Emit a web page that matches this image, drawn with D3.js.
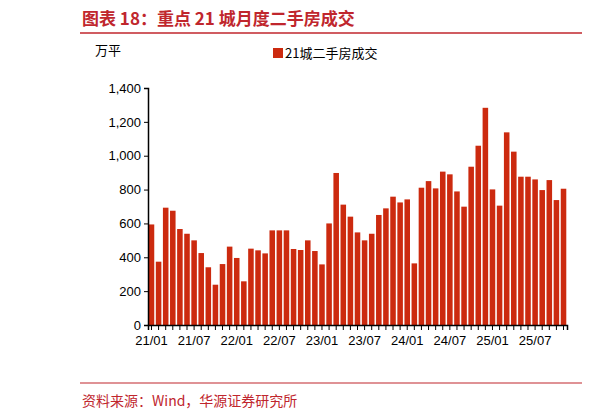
<!DOCTYPE html><html><head><meta charset="utf-8"><script src="https://cdn.jsdelivr.net/npm/d3@7"></script>
<style>body{margin:0;background:#fff}</style></head><body><svg id="c" width="614" height="420"></svg><script>
const values=[594,374,693,675,567,539,500,425,341,238,360,463,396,258,451,441,423,559,559,559,449,443,500,437,358,600,898,711,640,547,500,539,650,689,758,724,742,364,811,850,807,906,890,789,699,935,1059,1283,801,705,1138,1024,876,876,860,797,856,738,805];
const startYear=21;
const months=values.map((v,i)=>{const y=startYear+Math.floor(i/12),m=i%12+1;return y+"/"+String(m).padStart(2,"0");});
const yTicks=[0,200,400,600,800,1000,1200,1400];
const svg=d3.select("#c");
const f="'Noto Sans CJK SC',sans-serif";
svg.append("text").attr("x",82).attr("y",25).attr("font-family",f).attr("font-weight","bold").attr("font-size",17).attr("fill","#c0262d").text("图表 18：重点 21 城月度二手房成交");
svg.append("line").attr("x1",80).attr("x2",582).attr("y1",33).attr("y2",33).attr("stroke","#c0262d").attr("stroke-width",1.5);
svg.append("line").attr("x1",80).attr("x2",582).attr("y1",383).attr("y2",383).attr("stroke","#c0262d").attr("stroke-width",1.2);
svg.append("text").attr("x",82).attr("y",406).attr("font-family",f).attr("font-size",14).attr("fill","#c0262d").text("资料来源：Wind，华源证券研究所");
const x=d3.scaleBand().domain(months).range([148,567]).paddingInner(0.22).paddingOuter(0.1);
const y=d3.scaleLinear().domain([0,1400]).range([325,88]);
svg.selectAll("rect.b").data(values).join("rect").attr("x",(d,i)=>x(months[i])).attr("width",x.bandwidth()).attr("y",d=>y(d)).attr("height",d=>y(0)-y(d)).attr("fill","#cc2a0f");
const ya=svg.append("g").attr("transform","translate(148,0)").call(d3.axisLeft(y).tickValues(yTicks).tickSize(4));
ya.selectAll("text").attr("font-family","Arial,'Liberation Sans'").attr("font-size",13).attr("fill","#000");
const xa=svg.append("g").attr("transform","translate(0,325)").call(d3.axisBottom(x).tickSize(5).tickFormat(d=>{const m=d.slice(3);return (m==="01"||m==="07")?d:"";}));
xa.selectAll("text").attr("font-family","Arial,'Liberation Sans'").attr("font-size",13).attr("fill","#000").attr("dy","0.9em");
[ya,xa].forEach(a=>{a.select(".domain").attr("stroke","#000").attr("stroke-width",1.5);a.selectAll("line").attr("stroke","#000");});
svg.append("text").attr("x",95).attr("y",55).attr("font-family",f).attr("font-size",13).text("万平");
svg.append("rect").attr("x",273).attr("y",48).attr("width",10).attr("height",10).attr("fill","#cc2a0f");
svg.append("text").attr("x",285).attr("y",58).attr("font-family",f).attr("font-size",13).text("21城二手房成交");
</script></body></html>
